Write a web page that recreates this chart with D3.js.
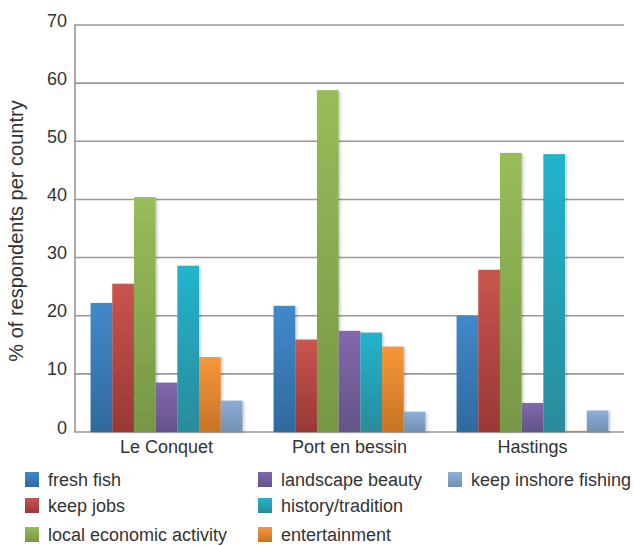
<!DOCTYPE html>
<html>
<head>
<meta charset="utf-8">
<script src="https://cdn.jsdelivr.net/npm/d3@7"></script>
<style>
  body { margin: 0; background: #fff; }
  text { font-family: "Liberation Sans", Arial, Helvetica, sans-serif; fill: #333; }
</style>
</head>
<body>
<div id="chart"></div>
<script>
var width = 634
var height = 546

var places = ["Le Conquet", "Port en bessin", "Hastings"]
var reasons = ["fresh fish", "keep jobs", "local economic activity", "landscape beauty",
    "history/tradition", "entertainment", "keep inshore fishing"]

// one array per reason, values in place order
var freshFish = [22.2, 21.7, 20.0]
var keepJobs = [25.5, 15.9, 27.9]
var localEconomic = [40.4, 58.8, 48.0]
var landscapeBeauty = [8.5, 17.4, 5.0]
var historyTradition = [28.6, 17.1, 47.8]
var entertainment = [12.9, 14.7, 0.2]
var keepInshore = [5.4, 3.5, 3.7]

var yTicks = [0, 10, 20, 30, 40, 50, 60, 70]

var seriesValues = [freshFish, keepJobs, localEconomic, landscapeBeauty,
    historyTradition, entertainment, keepInshore]

// top / bottom colour of the gradient
var colors = [
    ["#4189ca", "#2f6a9e"],
    ["#ca544f", "#983836"],
    ["#98bd5a", "#779745"],
    ["#8268ae", "#645387"],
    ["#22b4cd", "#2a8b9b"],
    ["#f8963a", "#c67427"],
    ["#8daedb", "#7390b0"]
]

var margin = { left: 75, right: 10, top: 25, bottom: 114 }

var svg = d3.select('#chart')
    .append('svg')
    .attr('width', width)
    .attr('height', height)

var defs = svg.append('defs')
colors.forEach(function (c, i) {
    var g = defs.append('linearGradient')
        .attr('id', 'grad' + i)
        .attr('x1', 0).attr('y1', 0).attr('x2', 0).attr('y2', 1)
    g.append('stop').attr('offset', '0%').attr('stop-color', c[0])
    g.append('stop').attr('offset', '100%').attr('stop-color', c[1])
})
defs.append('filter')
    .attr('id', 'shadow')
    .attr('x', '-20%').attr('y', '-20%').attr('width', '140%').attr('height', '140%')
    .append('feDropShadow')
    .attr('dx', 2).attr('dy', 1)
    .attr('stdDeviation', 1.2)
    .attr('flood-color', '#000')
    .attr('flood-opacity', 0.18)

var x0 = d3.scaleBand()
    .domain(places)
    .range([margin.left, width - margin.right])
    .paddingInner(0.17)
    .paddingOuter(0.085)

var x1 = d3.scaleBand()
    .domain(d3.range(reasons.length))
    .range([0, x0.bandwidth()])

var y = d3.scaleLinear()
    .domain([0, 70])
    .range([height - margin.bottom, margin.top])

// gridlines
svg.append('g')
    .selectAll('line')
    .data(yTicks)
    .enter()
    .append('line')
    .attr('x1', margin.left - 1)
    .attr('x2', width - margin.right)
    .attr('y1', function (d) { return y(d) })
    .attr('y2', function (d) { return y(d) })
    .attr('stroke', '#999')
    .attr('stroke-width', 1.6)

// left axis line
svg.append('line')
    .attr('x1', margin.left)
    .attr('x2', margin.left)
    .attr('y1', y(70))
    .attr('y2', y(0))
    .attr('stroke', '#999')
    .attr('stroke-width', 1.6)

// tick labels
svg.append('g')
    .selectAll('text')
    .data(yTicks)
    .enter()
    .append('text')
    .attr('x', 67)
    .attr('y', function (d) { return y(d) + 1.5 })
    .attr('text-anchor', 'end')
    .style('font-size', '18px')
    .text(function (d) { return d })

// y title
svg.append('text')
    .attr('transform', 'translate(23,' + 231 + ') rotate(-90)')
    .attr('text-anchor', 'middle')
    .style('font-size', '20px')
    .text('% of respondents per country')

// bars
var groups = svg.append('g')
    .selectAll('g')
    .data(places)
    .enter()
    .append('g')
    .attr('transform', function (d) { return 'translate(' + x0(d) + ',0)' })

groups.selectAll('rect')
    .data(function (d, pi) {
        return seriesValues.map(function (vals, si) { return { s: si, v: vals[pi] } })
    })
    .enter()
    .append('rect')
    .attr('x', function (d) { return x1(d.s) })
    .attr('width', x1.bandwidth())
    .attr('y', function (d) { return y(d.v) })
    .attr('height', function (d) { return y(0) - y(d.v) })
    .attr('fill', function (d) { return 'url(#grad' + d.s + ')' })
    .attr('filter', 'url(#shadow)')

// category labels
svg.append('g')
    .selectAll('text')
    .data(places)
    .enter()
    .append('text')
    .attr('x', function (d) { return x0(d) + x0.bandwidth() / 2 })
    .attr('y', 453)
    .attr('text-anchor', 'middle')
    .style('font-size', '18px')
    .text(function (d) { return d })

// legend, column-major
var legendCols = [25, 258, 448]
var legendRows = [486, 512, 541]
var legend = svg.append('g')
    .selectAll('g')
    .data(reasons)
    .enter()
    .append('g')
    .attr('transform', function (d, i) {
        return 'translate(' + legendCols[Math.floor(i / 3)] + ',' + legendRows[i % 3] + ')'
    })

legend.append('rect')
    .attr('x', 0)
    .attr('y', -14)
    .attr('width', 14)
    .attr('height', 15)
    .attr('fill', function (d, i) { return 'url(#grad' + i + ')' })

legend.append('text')
    .attr('x', 23)
    .attr('y', 0)
    .style('font-size', '18px')
    .text(function (d) { return d })
</script>
</body>
</html>
